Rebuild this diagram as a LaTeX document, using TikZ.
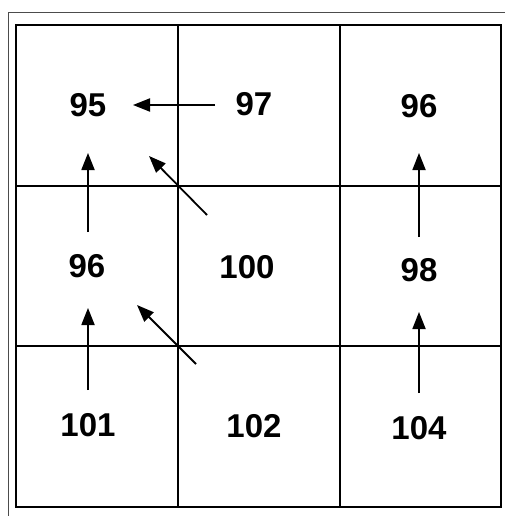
\documentclass[tikz,border=0pt]{standalone}
\usepackage{fontspec}
\setmainfont{Liberation Sans}
\usetikzlibrary{arrows.meta}
\begin{document}
\begin{tikzpicture}[x=1pt,y=-1pt,
  num/.style={font=\fontsize{33}{33}\selectfont\bfseries, inner sep=0pt},
  gridline/.style={line width=1.8pt},
  frameline/.style={line width=0.9pt, draw=black!70},
  arr/.style={line width=1.8pt, -{Triangle[length=17pt,width=13pt]}}]
\useasboundingbox (0,0) rectangle (505,516);
% outer frame
\draw[frameline] (8,516) -- (8,12) -- (505,12);
% grid
\draw[gridline] (16,25) rectangle (501,507);
\draw[gridline] (178,25) -- (178,507);
\draw[gridline] (340,25) -- (340,507);
\draw[gridline] (16,186) -- (501,186);
\draw[gridline] (16,346) -- (501,346);
% numbers
\node[num] (n95)  at (88,105)  {95};
\node[num] (n97)  at (254,104) {97};
\node[num] (n96a) at (419,106) {96};
\node[num] (n96b) at (87,266)  {96};
\node[num] (n100) at (247,267) {100};
\node[num] (n98)  at (419,270) {98};
\node[num] (n101) at (88,425)  {101};
\node[num] (n102) at (254,426) {102};
\node[num] (n104) at (419,428) {104};
% arrow end points
\coordinate (a1s) at (215,105); \coordinate (a1e) at (133,105);
\coordinate (a2s) at (88,232);  \coordinate (a2e) at (88,153);
\coordinate (a3s) at (207,215); \coordinate (a3e) at (149,156);
\coordinate (a4s) at (88,390);  \coordinate (a4e) at (88,308);
\coordinate (a5s) at (196,364); \coordinate (a5e) at (137,305);
\coordinate (a6s) at (419,237); \coordinate (a6e) at (419,153);
\coordinate (a7s) at (419,393); \coordinate (a7e) at (419,312);
\draw[arr] (a1s) -- (a1e);
\draw[arr] (a2s) -- (a2e);
\draw[arr] (a3s) -- (a3e);
\draw[arr] (a4s) -- (a4e);
\draw[arr] (a5s) -- (a5e);
\draw[arr] (a6s) -- (a6e);
\draw[arr] (a7s) -- (a7e);
\end{tikzpicture}
\end{document}
